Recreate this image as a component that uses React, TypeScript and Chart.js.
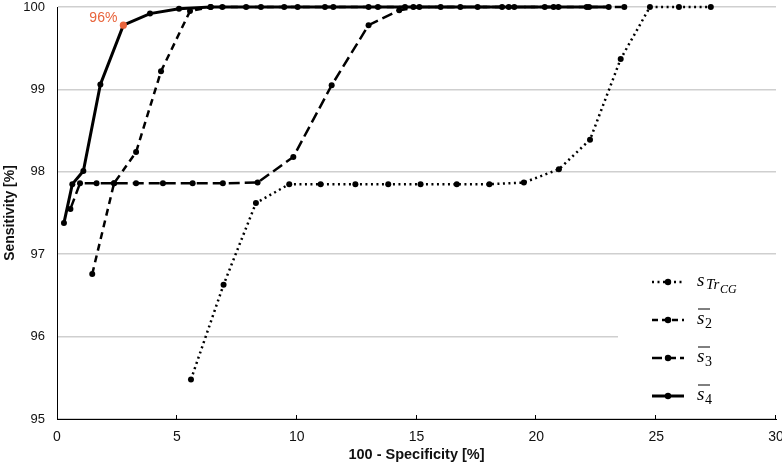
import { useEffect, useRef } from 'react';
import { Chart, registerables } from 'chart.js';

Chart.register(...registerables);

// ---------- data ----------
const sTrX = [5.59, 6.95, 8.3, 9.69, 11.0, 12.45, 13.82, 15.17, 16.68, 18.04, 19.48, 20.94, 22.24, 23.52, 24.74, 25.95, 27.28];
const sTrY = [95.48, 96.63, 97.62, 97.85, 97.85, 97.85, 97.85, 97.85, 97.85, 97.85, 97.87, 98.03, 98.39, 99.37, 100, 100, 100];

const s2X = [1.47, 2.38, 3.3, 4.34, 5.55, 6.41, 8.51, 10.04, 11.53, 13.39, 14.87, 16.83, 18.57, 20.72, 22.2, 23.67];
const s2Y = [96.76, 97.86, 98.24, 99.22, 99.95, 100, 100, 100, 100, 100, 100, 100, 100, 100, 100, 100];

const s3X = [0.56, 0.96, 1.65, 2.38, 3.3, 4.42, 5.66, 6.92, 8.37, 9.86, 11.46, 13.0, 14.28, 15.12, 19.08, 20.92];
const s3Y = [97.55, 97.86, 97.86, 97.86, 97.86, 97.86, 97.86, 97.86, 97.87, 98.18, 99.05, 99.78, 99.96, 100, 100, 100];

const s4X = [0.29, 0.64, 1.1, 1.81, 2.77, 3.88, 5.09, 6.41, 6.9, 7.89, 9.48, 11.18, 13.0, 14.52, 16.01, 17.55, 18.85, 20.35, 22.1, 23.02];
const s4Y = [97.38, 97.85, 98.01, 99.06, 99.78, 99.92, 99.98, 100, 100, 100, 100, 100, 100, 100, 100, 100, 100, 100, 100, 100];

const highlightIndex = 4; // point of s4 labelled "96%"
const highlightLabel = '96%';

const xTitle = '100 - Specificity [%]';
const yTitle = 'Sensitivity [%]';

const ORANGE = '#E8643C';
const SANS = '"Liberation Sans", Arial, sans-serif';
const SERIF = '"Liberation Serif", "DejaVu Serif", serif';

const pts = (xs: number[], ys: number[]) => xs.map((x, i) => ({ x, y: ys[i] }));

export default function App() {
  const ref = useRef<HTMLCanvasElement>(null);

  useEffect(() => {
    document.body.style.margin = '0';
    const canvas = ref.current!;

    const overlay = {
      id: 'overlay',
      beforeDatasetsDraw(chart: any) {
        const { ctx } = chart;
        ctx.save();
        ctx.fillStyle = '#fff';
        ctx.fillRect(618, 262, 164, 148);
        ctx.restore();
      },
      afterDraw(chart: any) {
        const { ctx, chartArea } = chart;
        const xs = chart.scales.x;
        ctx.save();
        // x-axis inward ticks
        ctx.strokeStyle = '#000';
        ctx.lineWidth = 1;
        for (let v = 5; v <= 30; v += 5) {
          const px = Math.round(xs.getPixelForValue(v)) - 0.5;
          ctx.beginPath();
          ctx.moveTo(px, chartArea.bottom);
          ctx.lineTo(px, chartArea.bottom - 4);
          ctx.stroke();
        }
        // highlight label
        const meta = chart.getDatasetMeta(3);
        const p = meta.data[highlightIndex];
        ctx.fillStyle = ORANGE;
        ctx.font = '14px ' + SANS;
        ctx.textAlign = 'right';
        ctx.textBaseline = 'middle';
        ctx.fillText(highlightLabel, p.x - 6, p.y - 7);

        // legend
        const entries = [
          { dash: [2, 3.5], w: 2.5, y: 282 },
          { dash: [6, 4], w: 2.5, y: 320 },
          { dash: [10, 4], w: 2.5, y: 358 },
          { dash: [], w: 3, y: 396 },
        ];
        entries.forEach((e, i) => {
          ctx.strokeStyle = '#000';
          ctx.lineWidth = e.w;
          ctx.setLineDash(e.dash);
          ctx.beginPath();
          ctx.moveTo(652, e.y);
          ctx.lineTo(684, e.y);
          ctx.stroke();
          ctx.setLineDash([]);
          ctx.fillStyle = '#000';
          ctx.beginPath();
          ctx.arc(668, e.y, 3.2, 0, Math.PI * 2);
          ctx.fill();

          ctx.textAlign = 'left';
          ctx.textBaseline = 'alphabetic';
          const bx = 697;
          const base = e.y + 4;
          if (i === 0) {
            ctx.font = 'italic 19px ' + SERIF;
            ctx.fillText('s', bx, base);
            ctx.font = 'italic 15px ' + SERIF;
            ctx.fillText('Tr', bx + 9, base + 3);
            ctx.font = 'italic 12px ' + SERIF;
            ctx.fillText('CG', bx + 23, base + 7);
          } else {
            ctx.font = 'italic 19px ' + SERIF;
            ctx.fillText('s', bx, base);
            ctx.font = '14px ' + SERIF;
            ctx.fillText(String(i + 1), bx + 8, base + 4);
            ctx.lineWidth = 1;
            ctx.beginPath();
            ctx.moveTo(bx + 1, base - 15);
            ctx.lineTo(bx + 13, base - 15);
            ctx.stroke();
          }
        });
        ctx.restore();
      },
    };

    const common = {
      borderColor: '#000',
      pointBackgroundColor: '#000',
      pointBorderColor: '#000',
      pointRadius: 3,
      pointBorderWidth: 0,
      fill: false,
      tension: 0,
      clip: 8,
    };

    const chart = new Chart(canvas, {
      type: 'line',
      data: {
        datasets: [
          { ...common, label: 'sTrCG', data: pts(sTrX, sTrY), borderWidth: 2.5, borderDash: [2, 3.5] },
          { ...common, label: 's2', data: pts(s2X, s2Y), borderWidth: 2.5, borderDash: [7, 5] },
          { ...common, label: 's3', data: pts(s3X, s3Y), borderWidth: 2.5, borderDash: [11, 5] },
          {
            ...common,
            label: 's4',
            data: pts(s4X, s4Y),
            borderWidth: 3,
            pointRadius: s4X.map((_, i) => (i === highlightIndex ? 3.6 : 3)),
            pointBackgroundColor: s4X.map((_, i) => (i === highlightIndex ? ORANGE : '#000')),
            pointBorderColor: s4X.map((_, i) => (i === highlightIndex ? ORANGE : '#000')),
          },
        ],
      } as any,
      options: {
        responsive: false,
        animation: false,
        devicePixelRatio: 1,
        layout: { padding: { top: 7, right: 6, left: 0, bottom: 0 } },
        plugins: { legend: { display: false }, tooltip: { enabled: false } },
        scales: {
          x: {
            type: 'linear',
            min: 0,
            max: 30,
            afterFit: (s: any) => {
              s.height = 47;
              s.paddingLeft = 0;
              s.paddingRight = 0;
            },
            grid: { display: false, drawTicks: false },
            border: { display: true, color: '#000', width: 1 },
            ticks: {
              stepSize: 5,
              padding: 10,
              maxRotation: 0,
              color: '#111',
              font: { family: SANS, size: 14 },
            },
            title: {
              display: true,
              text: xTitle,
              color: '#111',
              padding: { top: 0, bottom: 2.3 },
              font: { family: SANS, size: 14.5, weight: 'bold' },
            },
          },
          y: {
            type: 'linear',
            min: 95,
            max: 100,
            afterFit: (s: any) => {
              s.width = 57;
              s.paddingTop = 0;
              s.paddingBottom = 0;
            },
            grid: { color: '#cfcfcf', lineWidth: 1.5, drawTicks: false },
            border: { display: true, color: '#000', width: 1 },
            ticks: {
              stepSize: 1,
              padding: 12,
              color: '#111',
              font: { family: SANS, size: 13 },
            },
            title: {
              display: true,
              text: yTitle,
              color: '#111',
              padding: { top: 1.6, bottom: 0 },
              font: { family: SANS, size: 14, weight: 'bold' },
            },
          },
        },
      } as any,
      plugins: [overlay],
    });
    return () => chart.destroy();
  }, []);

  return (
    <div style={{ width: 782, height: 466 }}>
      <canvas ref={ref} width={782} height={466} style={{ display: 'block' }} />
    </div>
  );
}
